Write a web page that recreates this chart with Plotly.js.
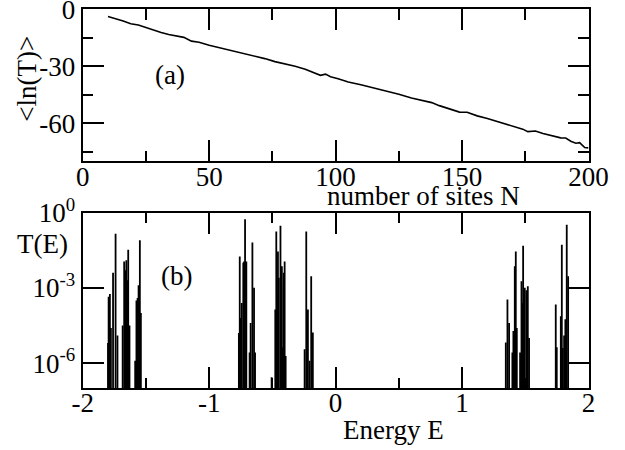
<!DOCTYPE html>
<html>
<head>
<meta charset="utf-8">
<script src="https://cdn.plot.ly/plotly-3.0.1.min.js"></script>
<style>
html,body{margin:0;padding:0;background:#fff;}
#chart{width:625px;height:450px;}
</style>
</head>
<body>
<div id="chart"></div>
<script>
// ---- Panel (a): <ln(T)> versus number of sites N ----
const sitesN = [10, 13, 16, 19, 22, 25, 28, 31, 34, 37, 40, 43, 46, 50, 53, 56, 60, 64, 68, 72,
  76, 80, 84, 88, 92, 94, 96, 98, 101, 105, 110, 115, 120, 125, 130, 134, 138, 141, 145, 149,
  152, 156, 160, 165, 170, 174, 176, 179, 182, 186, 189, 191, 193, 195, 196.5, 198.5, 200];
const meanLnT = [-3.8, -4.8, -6.2, -7.6, -8.3, -9.6, -11.0, -12.2, -13.3, -14.0, -14.8, -16.8, -17.4, -19.0, -19.9, -21.0, -22.2, -23.3, -24.6, -26.0,
  -27.6, -28.8, -30.0, -31.6, -33.6, -34.8, -34.2, -35.6, -36.6, -38.3, -39.8, -41.4, -43.0, -44.8, -46.8, -48.2, -49.2, -50.8, -52.4, -54.2,
  -54.3, -56.2, -57.6, -59.6, -61.4, -63.2, -64.5, -64.2, -65.5, -66.8, -67.8, -67.9, -69.6, -70.6, -70.3, -72.9, -73.1];
const xTickValsA = [0, 50, 100, 150, 200];
const xTickTextA = ['0', '50', '100', '150', '200'];
const yTickValsA = [0, -30, -60];
const yTickTextA = ['0', '-30', '-60'];

// ---- Panel (b): transmission spectrum T(E), resonance peaks ----
const peakE = [
  -1.800, -1.795, -1.785, -1.777, -1.760, -1.740, -1.725, -1.684, -1.672, -1.662, -1.655, -1.648, -1.640, -1.630,
  -1.585, -1.575, -1.566, -1.558, -1.548, -1.540,
  -0.765, -0.758, -0.750, -0.742, -0.730, -0.724, -0.716, -0.706, -0.680, -0.672, -0.658, -0.645, -0.637,
  -0.506, -0.477, -0.469, -0.462, -0.456, -0.449, -0.436, -0.430, -0.425, -0.420, -0.410, -0.403, -0.395,
  -0.245, -0.232, -0.225, -0.219, -0.206, -0.193, -0.180,
  1.346, 1.359, 1.372, 1.398, 1.406, 1.417, 1.425, 1.433, 1.459, 1.470, 1.477, 1.483, 1.496, 1.509, 1.520, 1.530,
  1.741, 1.749, 1.781, 1.789, 1.797, 1.807, 1.817, 1.828, 1.839
];
const peakLog10T = [
  -5.2, -3.35, -3.25, -4.6, -2.4, -0.85, -4.9, -4.5, -1.95, -2.3, -1.9, -2.7, -1.48, -4.5,
  -5.9, -3.5, -3.4, -2.9, -1.1, -4.0,
  -4.8, -1.75, -4.2, -3.6, -2.0, -1.95, -0.27, -1.95, -5.57, -4.4, -1.19, -3.0, -5.57,
  -6.56, -3.86, -0.76, -3.2, -1.55, -2.6, -0.53, -2.9, -2.14, -5.37, -2.4, -1.95, -5.71,
  -5.45, -0.76, -4.4, -3.86, -5.9, -2.54, -4.78,
  -5.18, -3.46, -4.4, -5.57, -4.72, -2.14, -1.55, -4.6, -5.57, -2.74, -3.6, -1.32, -3.0, -3.1, -2.94, -5.0,
  -3.66, -5.37, -4.13, -1.28, -5.4, -4.9, -4.25, -0.49, -2.54
];
const xTickValsB = [-2, -1, 0, 1, 2];
const xTickTextB = ['-2', '-1', '0', '1', '2'];
const logTickVals = [1, 1e-3, 1e-6];
const logTickText = ['10<sup>0</sup>', '10<sup>-3</sup>', '10<sup>-6</sup>'];

// build spikes: each resonance drawn as a vertical line from below the axis floor to its peak
const FLOOR = 1e-9;
const spikeX = [], spikeY = [];
for (let i = 0; i < peakE.length; i++) {
  spikeX.push(peakE[i], peakE[i], null);
  spikeY.push(FLOOR, Math.pow(10, peakLog10T[i]), null);
}

const FONT = 'Liberation Serif, Times New Roman, serif';
const W = 625, H = 450;
const px = v => v / W;
const py = v => 1 - v / H;

const axisCommon = {
  showline: true, linewidth: 2, linecolor: '#000', mirror: 'ticks',
  ticks: 'inside', ticklen: 21, tickwidth: 2, tickcolor: '#000',
  showgrid: false, zeroline: false, tickmode: 'array',
  ticklabeloverflow: 'allow',
  tickfont: {family: FONT, size: 27, color: '#000'}
};
const minorStyle = {ticklen: 10.5, tickwidth: 2, tickcolor: '#000', ticks: 'inside', showgrid: false};

const traces = [
  {x: sitesN, y: meanLnT, type: 'scatter', mode: 'lines', xaxis: 'x', yaxis: 'y',
   line: {color: '#000', width: 1.6}, hoverinfo: 'skip'},
  {x: spikeX, y: spikeY, type: 'scatter', mode: 'lines', xaxis: 'x2', yaxis: 'y2',
   line: {color: '#000', width: 1.8}, connectgaps: false, hoverinfo: 'skip'}
];

const xdom = [px(82.7), px(588.5)];
const layout = {
  width: W, height: H,
  margin: {l: 0, r: 0, t: 0, b: 0},
  paper_bgcolor: '#fff', plot_bgcolor: '#fff',
  showlegend: false,
  font: {family: FONT, size: 27, color: '#000'},
  xaxis: Object.assign({}, axisCommon, {
    domain: xdom, anchor: 'y', range: [0, 200],
    tickvals: xTickValsA, ticktext: xTickTextA, ticklabelstandoff: -9,
    minor: Object.assign({tick0: 0, dtick: 25}, minorStyle)
  }),
  yaxis: Object.assign({}, axisCommon, {
    domain: [py(161), py(9.3)], anchor: 'x', range: [-80, 0],
    tickvals: yTickValsA, ticktext: yTickTextA,
    minor: Object.assign({tick0: 0, dtick: 15}, minorStyle)
  }),
  xaxis2: Object.assign({}, axisCommon, {
    domain: xdom, anchor: 'y2', range: [-2, 2],
    tickvals: xTickValsB, ticktext: xTickTextB, ticklabelstandoff: -11,
    minor: Object.assign({tick0: 0, dtick: 0.5}, minorStyle)
  }),
  yaxis2: Object.assign({}, axisCommon, {
    domain: [py(388.3), py(212.5)], anchor: 'x2', type: 'log', range: [-7, 0],
    tickvals: logTickVals, ticktext: logTickText
  }),
  annotations: [
    {text: '(a)', x: px(170), y: py(75), xref: 'paper', yref: 'paper', showarrow: false,
     xanchor: 'center', yanchor: 'middle', font: {family: FONT, size: 27, color: '#000'}},
    {text: '(b)', x: px(176), y: py(275.5), xref: 'paper', yref: 'paper', showarrow: false,
     xanchor: 'center', yanchor: 'middle', font: {family: FONT, size: 27, color: '#000'}},
    {text: '&lt;ln(T)&gt;', x: px(26.7), y: py(79), xref: 'paper', yref: 'paper', showarrow: false,
     textangle: -90, xanchor: 'center', yanchor: 'middle', font: {family: FONT, size: 27, color: '#000'}},
    {text: 'number of sites N', x: px(423), y: py(196), xref: 'paper', yref: 'paper', showarrow: false,
     xanchor: 'center', yanchor: 'middle', font: {family: FONT, size: 27, color: '#000'}},
    {text: 'T(E)', x: px(42), y: py(244), xref: 'paper', yref: 'paper', showarrow: false,
     xanchor: 'center', yanchor: 'middle', font: {family: FONT, size: 27, color: '#000'}},
    {text: 'Energy E', x: px(393), y: py(430), xref: 'paper', yref: 'paper', showarrow: false,
     xanchor: 'center', yanchor: 'middle', font: {family: FONT, size: 27, color: '#000'}}
  ]
};

Plotly.newPlot('chart', traces, layout, {staticPlot: true, displayModeBar: false});
</script>
</body>
</html>
